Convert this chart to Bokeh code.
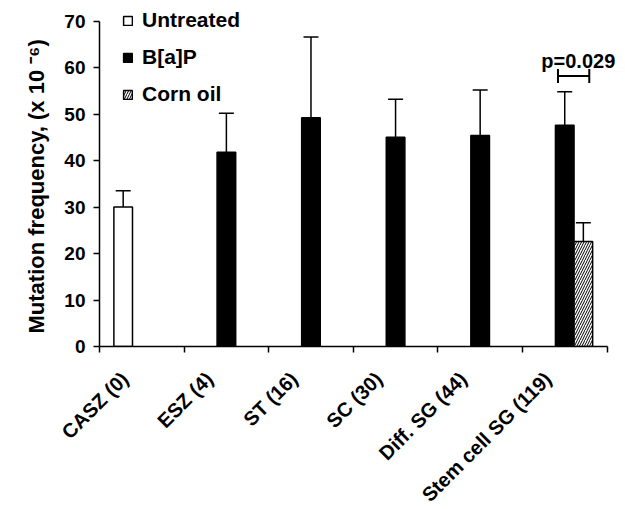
import math
from bokeh.plotting import figure
from bokeh.models import (ColumnDataSource, FixedTicker, Whisker, TeeHead,
                          Legend, LegendItem, Label, Range1d, Title)
from bokeh.embed import file_html
from bokeh.resources import INLINE

# ---- data ----
categories = ["CASZ (0)", "ESZ (4)", "ST (16)", "SC (30)", "Diff. SG (44)", "Stem cell SG (119)"]

untreated_cats = ["CASZ (0)"]
untreated_mean = [30.0]
untreated_err = [3.5]

bap_cats = ["ESZ (4)", "ST (16)", "SC (30)", "Diff. SG (44)", "Stem cell SG (119)"]
bap_mean = [41.8, 49.2, 45.0, 45.4, 47.6]
bap_err = [8.4, 17.4, 8.2, 9.8, 7.2]

corn_cats = ["Stem cell SG (119)"]
corn_mean = [22.6]
corn_err = [4.0]

y_ticks = [0, 10, 20, 30, 40, 50, 60, 70]
y_title = "Mutation frequency, (x 10 \u207b\u2076)"
p_text = "p=0.029"
p_bracket_y = [58.2]
p_bracket_from = [5.42]
p_bracket_to = [5.79]

# ---- styles ----
FONT = "Liberation Sans"
offsets = {"Untreated": -0.22, "B[a]P": 0.0, "Corn oil": 0.22}
BAR_W = 0.22
LABEL_SHIFT = 0.2


def make_src(cats, means, errs, group):
    xs = [categories.index(c) + 0.5 + offsets[group] for c in cats]
    return ColumnDataSource(dict(x=xs, top=means,
                                 upper=[m + e for m, e in zip(means, errs)]))


src_u = make_src(untreated_cats, untreated_mean, untreated_err, "Untreated")
src_b = make_src(bap_cats, bap_mean, bap_err, "B[a]P")
src_c = make_src(corn_cats, corn_mean, corn_err, "Corn oil")

p = figure(frame_width=516, frame_height=344,
           x_range=Range1d(0, 6.1), y_range=Range1d(0, 74),
           output_backend="svg", toolbar_location=None,
           min_border_left=99, min_border_right=2,
           min_border_top=2, min_border_bottom=161)
p.outline_line_color = None
p.xgrid.visible = False
p.ygrid.visible = False
p.background_fill_color = "white"

# y axis
ya = p.yaxis[0]
ya.ticker = FixedTicker(ticks=y_ticks)
ya.bounds = (0, 70)
ya.major_tick_out = 6
ya.major_tick_in = 0
ya.minor_tick_out = 0
ya.minor_tick_in = 0
ya.axis_line_width = 1.5
ya.axis_line_color = "black"
ya.major_tick_line_width = 1.5
ya.major_tick_line_color = "black"
ya.major_label_text_font = FONT
ya.major_label_text_font_style = "bold"
ya.major_label_text_font_size = "19px"
ya.major_label_text_color = "black"
ya.major_label_standoff = 8

# y title (as a side title so that it can sit over the 0-70 span)
p.add_layout(Title(text=y_title, align="left", offset=13, standoff=26,
                   text_font=FONT, text_font_style="bold", text_font_size="22px",
                   text_color="black"), "left")

# x axis
xa = p.xaxis[0]
label_pos = [i + 0.5 - LABEL_SHIFT for i in range(len(categories))]
xa.ticker = FixedTicker(ticks=label_pos,
                        minor_ticks=list(range(len(categories) + 1)))
xa.bounds = (0, len(categories))
xa.major_label_overrides = {pos: c for pos, c in zip(label_pos, categories)}
xa.major_label_orientation = math.pi / 4
xa.major_tick_out = 0
xa.major_tick_in = 0
xa.minor_tick_out = 6
xa.minor_tick_in = 0
xa.minor_tick_line_width = 1.5
xa.minor_tick_line_color = "black"
xa.axis_line_width = 1.5
xa.axis_line_color = "black"
xa.major_label_text_font = FONT
xa.major_label_text_font_style = "bold"
xa.major_label_text_font_size = "20px"
xa.major_label_text_color = "black"
xa.major_label_standoff = 23

# bars
r_u = p.vbar(x="x", top="top", bottom=0, width=BAR_W, source=src_u,
             fill_color="white", line_color="black", line_width=1.5)
r_b = p.vbar(x="x", top="top", bottom=0, width=BAR_W, source=src_b,
             fill_color="black", line_color="black", line_width=1.5)
r_c = p.vbar(x="x", top="top", bottom=0, width=BAR_W, source=src_c,
             fill_color="white", line_color="black", line_width=1.5,
             hatch_pattern="/", hatch_color="black", hatch_scale=5, hatch_weight=1)

# error bars (upper only)
for src in (src_u, src_b, src_c):
    w = Whisker(source=src, base="x", lower="top", upper="upper",
                line_width=1.5, line_color="black",
                upper_head=TeeHead(size=15, line_width=1.5, line_color="black"),
                lower_head=None)
    p.add_layout(w)

# significance bracket
src_p = ColumnDataSource(dict(y=p_bracket_y, lo=p_bracket_from, hi=p_bracket_to))
br = Whisker(source=src_p, base="y", lower="lo", upper="hi", dimension="width",
             line_width=2, line_color="black",
             upper_head=TeeHead(size=14, line_width=2, line_color="black"),
             lower_head=TeeHead(size=14, line_width=2, line_color="black"))
p.add_layout(br)
p.add_layout(Label(x=5.66, y=61.4, text=p_text,
                   text_align="center", text_baseline="alphabetic",
                   text_font=FONT, text_font_style="bold", text_font_size="20px",
                   text_color="black"))

# legend
legend = Legend(items=[LegendItem(label="Untreated", renderers=[r_u]),
                       LegendItem(label="B[a]P", renderers=[r_b]),
                       LegendItem(label="Corn oil", renderers=[r_c])],
                location=(23, 240), orientation="vertical",
                glyph_width=11, glyph_height=11, label_standoff=9,
                spacing=13, padding=0, margin=0, label_height=20,
                border_line_color=None, background_fill_alpha=0,
                label_text_font=FONT, label_text_font_style="bold",
                label_text_font_size="21px", label_text_color="black")
p.add_layout(legend)

open("out.html", "w").write(file_html(p, INLINE))
